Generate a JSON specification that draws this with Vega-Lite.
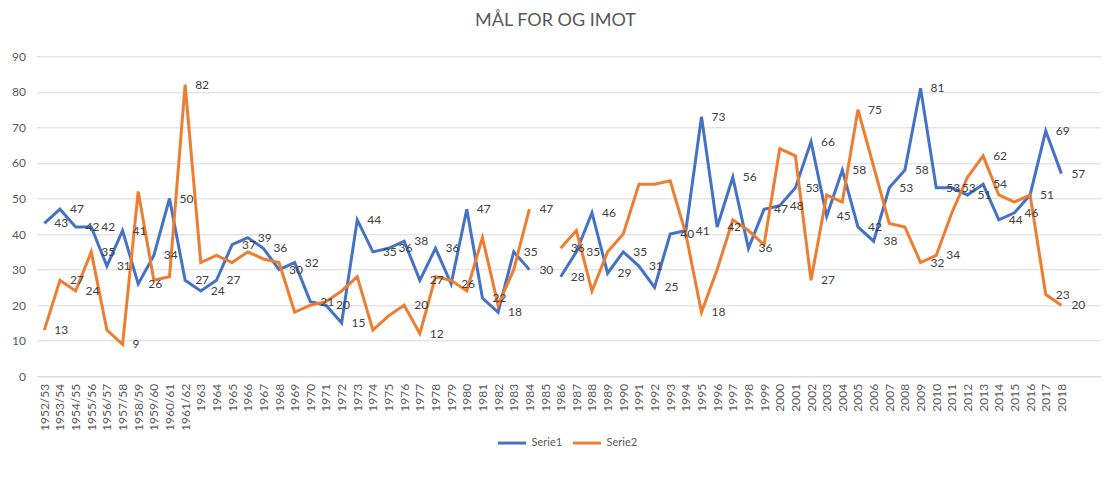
{
  "$schema": "https://vega.github.io/schema/vega-lite/v6.json",
  "width": 1064,
  "height": 320,
  "autosize": {"type": "none"},
  "padding": {"left": 36.5, "top": 56.3, "right": 7.5, "bottom": 114.7},
  "background": "white",
  "title": {"text": "MÅL FOR OG IMOT", "font": "Lato", "fontSize": 18, "fontWeight": "normal", "color": "#595959", "offset": 20, "dx": -13},
  "config": {"view": {"stroke": null}, "font": "Lato"},
  "data": {"values": [
    {"year":"1952/53","series":"Serie1","value":43,"label":true},{"year":"1952/53","series":"Serie2","value":13,"label":true},
    {"year":"1953/54","series":"Serie1","value":47,"label":true},{"year":"1953/54","series":"Serie2","value":27,"label":true},
    {"year":"1954/55","series":"Serie1","value":42,"label":true},{"year":"1954/55","series":"Serie2","value":24,"label":true},
    {"year":"1955/56","series":"Serie1","value":42,"label":true},{"year":"1955/56","series":"Serie2","value":35,"label":true},
    {"year":"1956/57","series":"Serie1","value":31,"label":true},{"year":"1956/57","series":"Serie2","value":13,"label":false},
    {"year":"1957/58","series":"Serie1","value":41,"label":true},{"year":"1957/58","series":"Serie2","value":9,"label":true},
    {"year":"1958/59","series":"Serie1","value":26,"label":true},{"year":"1958/59","series":"Serie2","value":52,"label":false},
    {"year":"1959/60","series":"Serie1","value":34,"label":true},{"year":"1959/60","series":"Serie2","value":27,"label":false},
    {"year":"1960/61","series":"Serie1","value":50,"label":true},{"year":"1960/61","series":"Serie2","value":28,"label":false},
    {"year":"1961/62","series":"Serie1","value":27,"label":true},{"year":"1961/62","series":"Serie2","value":82,"label":true},
    {"year":"1963","series":"Serie1","value":24,"label":true},{"year":"1963","series":"Serie2","value":32,"label":false},
    {"year":"1964","series":"Serie1","value":27,"label":true},{"year":"1964","series":"Serie2","value":34,"label":false},
    {"year":"1965","series":"Serie1","value":37,"label":true},{"year":"1965","series":"Serie2","value":32,"label":false},
    {"year":"1966","series":"Serie1","value":39,"label":true},{"year":"1966","series":"Serie2","value":35,"label":false},
    {"year":"1967","series":"Serie1","value":36,"label":true},{"year":"1967","series":"Serie2","value":33,"label":false},
    {"year":"1968","series":"Serie1","value":30,"label":true},{"year":"1968","series":"Serie2","value":32,"label":false},
    {"year":"1969","series":"Serie1","value":32,"label":true},{"year":"1969","series":"Serie2","value":18,"label":false},
    {"year":"1970","series":"Serie1","value":21,"label":true},{"year":"1970","series":"Serie2","value":20,"label":false},
    {"year":"1971","series":"Serie1","value":20,"label":true},{"year":"1971","series":"Serie2","value":21,"label":false},
    {"year":"1972","series":"Serie1","value":15,"label":true},{"year":"1972","series":"Serie2","value":24,"label":false},
    {"year":"1973","series":"Serie1","value":44,"label":true},{"year":"1973","series":"Serie2","value":28,"label":false},
    {"year":"1974","series":"Serie1","value":35,"label":true},{"year":"1974","series":"Serie2","value":13,"label":false},
    {"year":"1975","series":"Serie1","value":36,"label":true},{"year":"1975","series":"Serie2","value":17,"label":false},
    {"year":"1976","series":"Serie1","value":38,"label":true},{"year":"1976","series":"Serie2","value":20,"label":true},
    {"year":"1977","series":"Serie1","value":27,"label":true},{"year":"1977","series":"Serie2","value":12,"label":true},
    {"year":"1978","series":"Serie1","value":36,"label":true},{"year":"1978","series":"Serie2","value":28,"label":false},
    {"year":"1979","series":"Serie1","value":26,"label":true},{"year":"1979","series":"Serie2","value":27,"label":false},
    {"year":"1980","series":"Serie1","value":47,"label":true},{"year":"1980","series":"Serie2","value":24,"label":false},
    {"year":"1981","series":"Serie1","value":22,"label":true},{"year":"1981","series":"Serie2","value":39,"label":false},
    {"year":"1982","series":"Serie1","value":18,"label":true},{"year":"1982","series":"Serie2","value":20,"label":false},
    {"year":"1983","series":"Serie1","value":35,"label":true},{"year":"1983","series":"Serie2","value":30,"label":false},
    {"year":"1984","series":"Serie1","value":30,"label":true},{"year":"1984","series":"Serie2","value":47,"label":true},
    {"year":"1985","series":"Serie1","value":null,"label":false},{"year":"1985","series":"Serie2","value":null,"label":false},
    {"year":"1986","series":"Serie1","value":28,"label":true},{"year":"1986","series":"Serie2","value":36,"label":true},
    {"year":"1987","series":"Serie1","value":35,"label":true},{"year":"1987","series":"Serie2","value":41,"label":false},
    {"year":"1988","series":"Serie1","value":46,"label":true},{"year":"1988","series":"Serie2","value":24,"label":false},
    {"year":"1989","series":"Serie1","value":29,"label":true},{"year":"1989","series":"Serie2","value":35,"label":false},
    {"year":"1990","series":"Serie1","value":35,"label":true},{"year":"1990","series":"Serie2","value":40,"label":false},
    {"year":"1991","series":"Serie1","value":31,"label":true},{"year":"1991","series":"Serie2","value":54,"label":false},
    {"year":"1992","series":"Serie1","value":25,"label":true},{"year":"1992","series":"Serie2","value":54,"label":false},
    {"year":"1993","series":"Serie1","value":40,"label":true},{"year":"1993","series":"Serie2","value":55,"label":false},
    {"year":"1994","series":"Serie1","value":41,"label":true},{"year":"1994","series":"Serie2","value":40,"label":false},
    {"year":"1995","series":"Serie1","value":73,"label":true},{"year":"1995","series":"Serie2","value":18,"label":true},
    {"year":"1996","series":"Serie1","value":42,"label":true},{"year":"1996","series":"Serie2","value":30,"label":false},
    {"year":"1997","series":"Serie1","value":56,"label":true},{"year":"1997","series":"Serie2","value":44,"label":false},
    {"year":"1998","series":"Serie1","value":36,"label":true},{"year":"1998","series":"Serie2","value":41,"label":false},
    {"year":"1999","series":"Serie1","value":47,"label":true},{"year":"1999","series":"Serie2","value":37,"label":false},
    {"year":"2000","series":"Serie1","value":48,"label":true},{"year":"2000","series":"Serie2","value":64,"label":false},
    {"year":"2001","series":"Serie1","value":53,"label":true},{"year":"2001","series":"Serie2","value":62,"label":false},
    {"year":"2002","series":"Serie1","value":66,"label":true},{"year":"2002","series":"Serie2","value":27,"label":true},
    {"year":"2003","series":"Serie1","value":45,"label":true},{"year":"2003","series":"Serie2","value":51,"label":false},
    {"year":"2004","series":"Serie1","value":58,"label":true},{"year":"2004","series":"Serie2","value":49,"label":false},
    {"year":"2005","series":"Serie1","value":42,"label":true},{"year":"2005","series":"Serie2","value":75,"label":true},
    {"year":"2006","series":"Serie1","value":38,"label":true},{"year":"2006","series":"Serie2","value":59,"label":false},
    {"year":"2007","series":"Serie1","value":53,"label":true},{"year":"2007","series":"Serie2","value":43,"label":false},
    {"year":"2008","series":"Serie1","value":58,"label":true},{"year":"2008","series":"Serie2","value":42,"label":false},
    {"year":"2009","series":"Serie1","value":81,"label":true},{"year":"2009","series":"Serie2","value":32,"label":true},
    {"year":"2010","series":"Serie1","value":53,"label":true},{"year":"2010","series":"Serie2","value":34,"label":true},
    {"year":"2011","series":"Serie1","value":53,"label":true},{"year":"2011","series":"Serie2","value":46,"label":false},
    {"year":"2012","series":"Serie1","value":51,"label":true},{"year":"2012","series":"Serie2","value":56,"label":false},
    {"year":"2013","series":"Serie1","value":54,"label":true},{"year":"2013","series":"Serie2","value":62,"label":true},
    {"year":"2014","series":"Serie1","value":44,"label":true},{"year":"2014","series":"Serie2","value":51,"label":false},
    {"year":"2015","series":"Serie1","value":46,"label":true},{"year":"2015","series":"Serie2","value":49,"label":false},
    {"year":"2016","series":"Serie1","value":51,"label":true},{"year":"2016","series":"Serie2","value":51,"label":false},
    {"year":"2017","series":"Serie1","value":69,"label":true},{"year":"2017","series":"Serie2","value":23,"label":true},
    {"year":"2018","series":"Serie1","value":57,"label":true},{"year":"2018","series":"Serie2","value":20,"label":true}
  ]},
  "encoding": {
    "x": {
      "field": "year", "type": "ordinal", "sort": null,
      "scale": {"type": "point", "padding": 0.5, "domain": ["1952/53","1953/54","1954/55","1955/56","1956/57","1957/58","1958/59","1959/60","1960/61","1961/62","1963","1964","1965","1966","1967","1968","1969","1970","1971","1972","1973","1974","1975","1976","1977","1978","1979","1980","1981","1982","1983","1984","1985","1986","1987","1988","1989","1990","1991","1992","1993","1994","1995","1996","1997","1998","1999","2000","2001","2002","2003","2004","2005","2006","2007","2008","2009","2010","2011","2012","2013","2014","2015","2016","2017","2018"," ","  "]},
      "axis": {"title": null, "labelAngle": -90, "labelAlign": "right", "labelBaseline": "middle", "ticks": false, "domainColor": "#d9d9d9", "domainWidth": 1, "labelColor": "#595959", "labelFontSize": 12, "labelPadding": 7, "labelOverlap": false, "grid": false}
    },
    "y": {
      "field": "value", "type": "quantitative",
      "scale": {"domain": [0, 90], "nice": false},
      "axis": {"title": null, "values": [0,10,20,30,40,50,60,70,80,90], "domain": false, "ticks": false, "labelPadding": 11, "labelColor": "#595959", "labelFontSize": 12, "gridColor": "#d9d9d9", "gridWidth": 1}
    }
  },
  "layer": [
    {
      "mark": {"type": "line", "strokeWidth": 3, "invalid": "break-paths-show-domains"},
      "encoding": {
        "color": {
          "field": "series", "type": "nominal",
          "scale": {"domain": ["Serie1", "Serie2"], "range": ["#4472C4", "#ED7D31"]},
          "legend": {"title": null, "orient": "none", "direction": "horizontal", "legendX": 460, "legendY": 371, "symbolType": "stroke", "symbolSize": 784, "symbolStrokeWidth": 3, "labelFontSize": 11, "labelColor": "#595959", "labelOffset": 4, "columnPadding": 4, "padding": 0}
        }
      }
    },
    {
      "transform": [{"filter": "datum.label"}],
      "mark": {"type": "text", "align": "left", "baseline": "middle", "dx": 10, "fontSize": 12, "color": "#404040"},
      "encoding": {"text": {"field": "value", "type": "quantitative"}}
    }
  ]
}
